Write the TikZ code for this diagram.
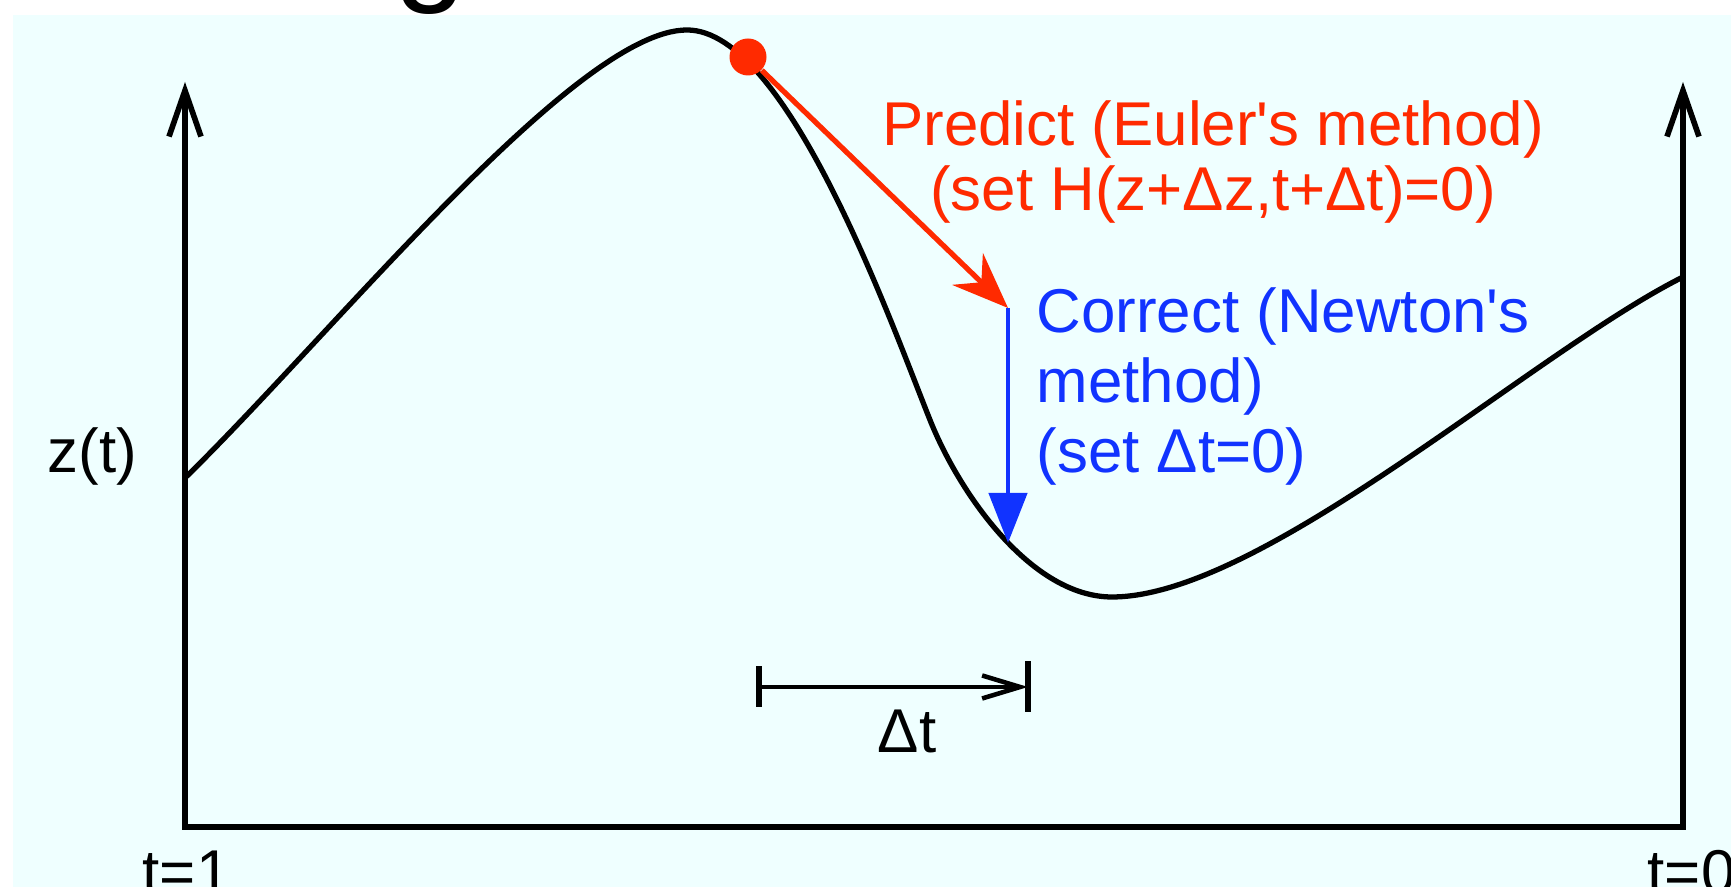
\documentclass[tikz,border=0pt]{standalone}
\usepackage{fontspec}
\setmainfont{Liberation Sans}[Ligatures=TeXOff]
\usetikzlibrary{arrows.meta}
\definecolor{panelcyan}{HTML}{EFFFFF}
\definecolor{predred}{HTML}{FF2A00}
\definecolor{corrblue}{HTML}{1133FF}
\newcommand{\lblfont}{\fontsize{17.6}{18.5}\selectfont}
\newcommand{\corrfont}{\fontsize{17.6}{19.9}\selectfont}

\begin{document}
\begin{tikzpicture}[
      axisline/.style={line width=1.6pt,
                  {Straight Barb[length=4.6mm, width=3.2mm]}-{Straight Barb[length=4.6mm, width=3.2mm]}},
      curve/.style={line width=1.5pt},
      predarrow/.style={-{Stealth[length=5.6mm, width=4.4mm, inset=1.9mm]}, line width=1.5pt, predred},
      corrarrow/.style={-{Triangle[length=5mm, width=3.8mm]}, line width=1.3pt, corrblue},
      dtarrow/.style={-{Straight Barb[length=3.8mm, width=2.3mm]}, line width=1.3pt},
      barline/.style={line width=1.5pt},
      lab/.style={font=\lblfont, inner sep=0pt},
      ptdot/.style={circle, fill=predred, inner sep=0pt, minimum size=3.7mm}
    ]
    \useasboundingbox (0,0) rectangle (17.31,8.87);
    \fill[white] (0,0) rectangle (17.31,8.87);
    \fill[panelcyan] (0.13,0) rectangle (17.31,8.72);
    \node[lab, font=\fontsize{37}{37}\selectfont, anchor=base west] (title) at (3.94,8.99) {g};

    \coordinate (ytop)   at (1.85,8.05);
    \coordinate (origin) at (1.85,0.60);
    \coordinate (xend)   at (16.83,0.60);
    \coordinate (rtop)   at (16.83,8.05);
    \draw[axisline] (ytop) -- (origin) -- (xend) -- (rtop);

    \draw[curve] (1.85,4.09) .. controls (3.35,5.56) and (5.77,8.57) .. (6.87,8.57)
          .. controls (7.87,8.57) and (8.90,5.67) .. (9.30,4.67)
          .. controls (9.60,3.92) and (10.32,2.90) .. (11.12,2.90)
          .. controls (12.62,2.90) and (15.33,5.35) .. (16.83,6.10);

    \node[ptdot] (cur) at (7.48,8.30) {};
    \coordinate (pred) at (10.08,5.79);
    \coordinate (corr) at (10.08,3.44);
    \draw[corrarrow] (pred) -- (corr);
    \draw[predarrow] (cur) -- (pred);

    \node[lab, predred, align=center, anchor=north] (predlab) at (12.13,7.87)
          {Predict (Euler's method)\\(set H(z+Δz,t+Δt)=0)};
    \node[lab, corrblue, font=\corrfont, align=left, anchor=north west] (corrlab) at (10.36,6.00)
          {Correct (Newton's\\method)\\(set Δt=0)};

    \coordinate (dtl) at (7.59,2.00);
    \coordinate (dtr) at (10.28,2.00);
    \draw[dtarrow] (dtl) -- (dtr);
    \draw[barline] ([yshift=-2mm]dtl) -- ([yshift=2.1mm]dtl);
    \draw[barline] ([yshift=-2.5mm]dtr) -- ([yshift=2.6mm]dtr);
    \node[lab, anchor=base] (dtlab) at (9.07,1.34) {Δt};

    \node[lab, anchor=base west] (zlab)  at (0.47,4.14) {z(t)};
    \node[lab, anchor=base west] (tone)  at (1.42,-0.07) {t=1};
    \node[lab, anchor=base west] (tzero) at (16.47,-0.07) {t=0};
  \end{tikzpicture}
\end{document}
